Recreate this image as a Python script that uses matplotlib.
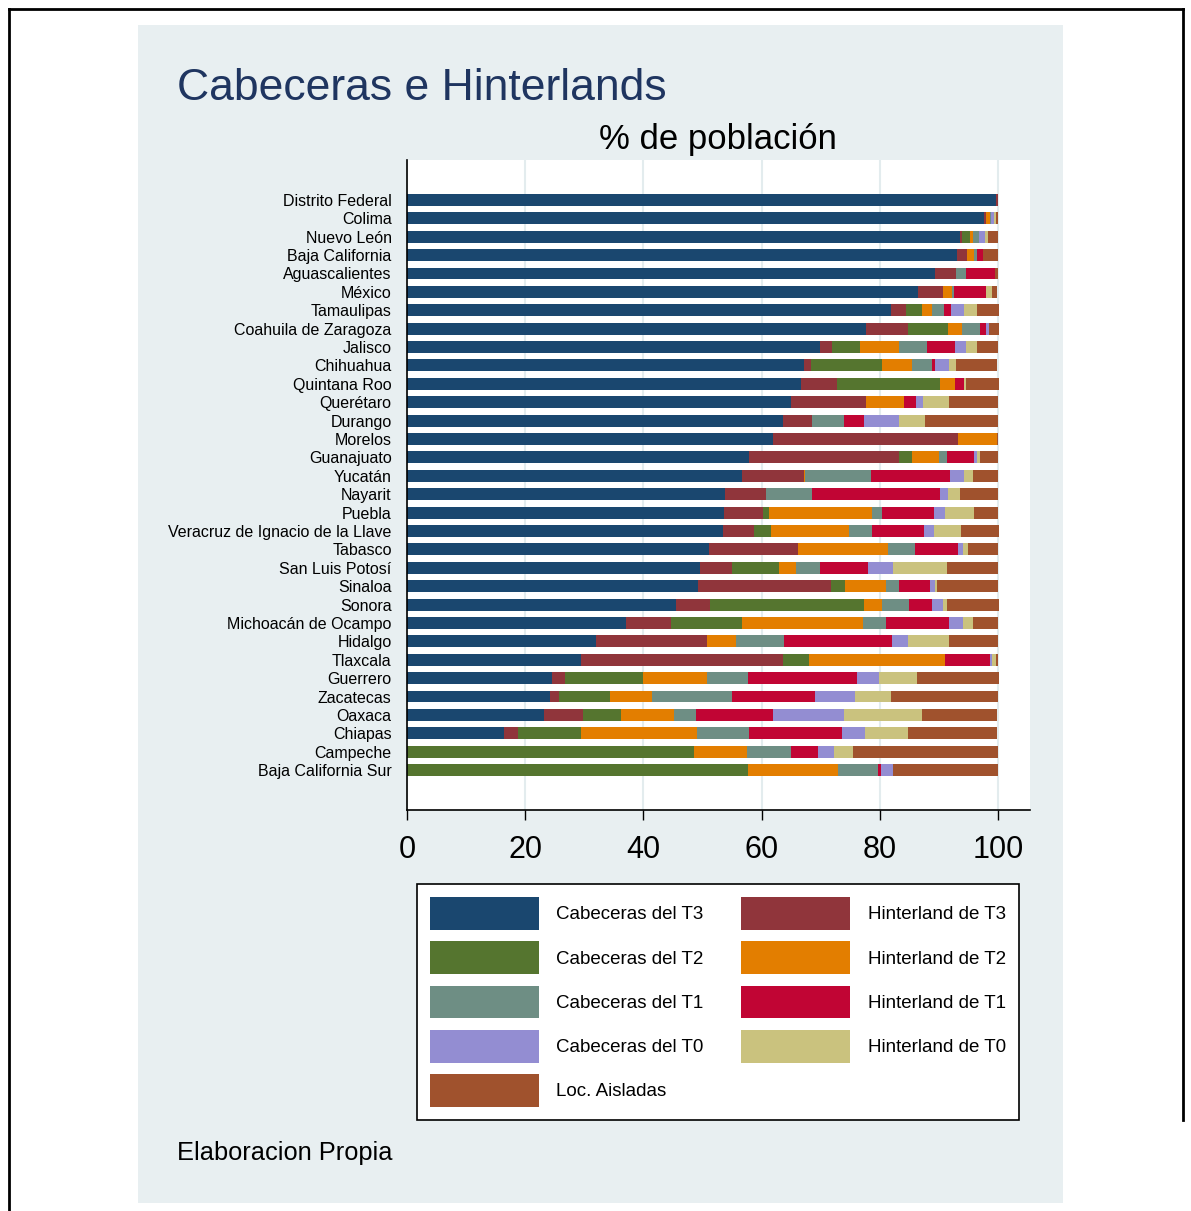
import numpy as np
import matplotlib.pyplot as plt
from matplotlib.patches import Rectangle
from matplotlib.lines import Line2D

plt.rcParams['font.family'] = ['Liberation Sans', 'DejaVu Sans']

states = ["Distrito Federal", "Colima", "Nuevo León", "Baja California", "Aguascalientes",
          "México", "Tamaulipas", "Coahuila de Zaragoza", "Jalisco", "Chihuahua",
          "Quintana Roo", "Querétaro", "Durango", "Morelos", "Guanajuato", "Yucatán",
          "Nayarit", "Puebla", "Veracruz de Ignacio de la Llave", "Tabasco",
          "San Luis Potosí", "Sinaloa", "Sonora", "Michoacán de Ocampo", "Hidalgo",
          "Tlaxcala", "Guerrero", "Zacatecas", "Oaxaca", "Chiapas", "Campeche",
          "Baja California Sur"]

# % of population per category
cab_t3 = [99.7, 97.6, 93.6, 93.0, 89.3, 86.4, 81.9, 77.6, 69.8, 67.1,
          66.6, 64.9, 63.6, 62.0, 57.9, 56.6, 53.8, 53.6, 53.5, 51.1,
          49.6, 49.2, 45.5, 37.1, 31.9, 29.4, 24.6, 24.2, 23.1, 16.4, 0.0, 0.0]
hin_t3 = [0.3, 0.4, 0.3, 1.8, 3.5, 4.2, 2.6, 7.2, 2.1, 1.2,
          6.2, 12.8, 4.9, 31.3, 25.3, 10.5, 6.9, 6.6, 5.2, 15.1,
          5.3, 22.6, 5.8, 7.6, 18.9, 34.2, 2.2, 1.6, 6.6, 2.3, 0.0, 0.0]
cab_t2 = [0.0, 0.0, 1.4, 0.0, 0.0, 0.0, 2.7, 6.8, 4.8, 12.1,
          17.4, 0.0, 0.0, 0.0, 2.2, 0.0, 0.0, 1.0, 2.9, 0.0,
          8.1, 2.3, 26.0, 11.9, 0.0, 4.4, 13.2, 8.6, 6.5, 10.7, 48.6, 57.7]
hin_t2 = [0.0, 0.7, 0.4, 1.2, 0.0, 1.6, 1.6, 2.3, 6.6, 5.0,
          2.5, 6.4, 0.0, 6.5, 4.6, 0.3, 0.0, 17.5, 13.2, 15.2,
          2.8, 6.9, 3.0, 20.6, 4.8, 23.1, 10.7, 7.0, 8.9, 19.7, 8.9, 15.2]
cab_t1 = [0.0, 0.1, 1.1, 0.5, 1.7, 0.3, 2.1, 3.0, 4.6, 3.4,
          0.0, 0.0, 5.4, 0.0, 1.4, 11.1, 7.9, 1.6, 3.8, 4.6,
          4.0, 2.2, 4.6, 3.9, 8.2, 0.0, 7.0, 13.5, 3.8, 8.7, 7.5, 6.7]
hin_t1 = [0.0, 0.0, 0.0, 1.0, 5.0, 5.4, 1.1, 1.0, 4.8, 0.6,
          1.6, 2.0, 3.4, 0.0, 4.5, 13.3, 21.6, 8.8, 8.8, 7.2,
          8.2, 5.3, 4.0, 10.6, 18.2, 7.6, 18.4, 14.2, 13.0, 15.8, 4.6, 0.6]
cab_t0 = [0.0, 0.5, 1.0, 0.0, 0.0, 0.0, 2.3, 0.6, 1.9, 2.3,
          0.0, 1.2, 6.0, 0.0, 0.5, 2.4, 1.3, 1.9, 1.8, 0.8,
          4.2, 0.8, 1.8, 2.3, 2.7, 0.3, 3.8, 6.7, 12.1, 3.9, 2.7, 2.1]
hin_t0 = [0.0, 0.3, 0.45, 0.0, 0.0, 1.1, 2.1, 0.0, 1.8, 1.2,
          0.3, 4.4, 4.4, 0.0, 0.6, 1.6, 2.0, 4.9, 4.6, 0.9,
          9.1, 0.3, 0.7, 1.7, 7.0, 0.6, 6.3, 6.1, 13.1, 7.2, 3.2, 0.0]
loc_ais = [0.0, 0.4, 1.75, 2.5, 0.5, 0.9, 3.7, 1.6, 3.6, 7.0,
           5.5, 8.3, 12.3, 0.2, 3.0, 4.2, 6.5, 4.1, 6.3, 5.1,
           8.7, 10.4, 8.7, 4.3, 8.3, 0.4, 13.9, 18.1, 12.8, 15.2, 24.5, 17.7]

series = [cab_t3, hin_t3, cab_t2, hin_t2, cab_t1, hin_t1, cab_t0, hin_t0, loc_ais]
labels = ["Cabeceras del T3", "Hinterland de T3", "Cabeceras del T2", "Hinterland de T2",
          "Cabeceras del T1", "Hinterland de T1", "Cabeceras del T0", "Hinterland de T0",
          "Loc. Aisladas"]
colors = ["#1A476F", "#90353B", "#55752F", "#E37E00", "#6E8E84",
          "#C10534", "#938DD2", "#CAC27E", "#A0522D"]

fig = plt.figure(figsize=(11.91, 12.11), dpi=100)
W, H = 1191, 1211

# light panel behind the graph
fig.patches.append(Rectangle((138 / W, 1 - 1203 / H), 925 / W, 1178 / H,
                             transform=fig.transFigure, facecolor="#E8EFF1",
                             edgecolor="none", zorder=-2))
# page frame
fig.lines.append(Line2D([9 / W, 9 / W], [0, 1 - 9 / H], transform=fig.transFigure,
                        color="black", lw=2))
fig.lines.append(Line2D([9 / W, 1183 / W], [1 - 9 / H, 1 - 9 / H], transform=fig.transFigure,
                        color="black", lw=2))
fig.lines.append(Line2D([1183 / W, 1183 / W], [1 - 9 / H, 1 - 1120 / H], transform=fig.transFigure,
                        color="black", lw=2))

ax = fig.add_axes([407 / W, 1 - 810 / H, 623 / W, 650 / H])
ax.set_facecolor("white")

y = np.arange(len(states))
left = np.zeros(len(states))
handles = []
for vals, lab, col in zip(series, labels, colors):
    b = ax.barh(y, vals, left=left, height=0.65, color=col, label=lab, linewidth=0)
    handles.append(b)
    left += np.array(vals)

ax.set_ylim(len(states) - 1 + 2.17, -2.17)
ax.set_xlim(0, 105.4)
ax.set_yticks(y)
ax.set_yticklabels(states, fontsize=11.5)
ax.set_xticks([0, 20, 40, 60, 80, 100])
ax.tick_params(axis="y", length=0, pad=11)
ax.tick_params(axis="x", length=7, width=1, pad=11, labelsize=22)
ax.grid(axis="x", color="#E3ECEE", lw=1.5)
ax.set_axisbelow(True)
for s in ["top", "right"]:
    ax.spines[s].set_visible(False)
ax.spines["left"].set_linewidth(1.2)
ax.spines["bottom"].set_linewidth(1.2)

fig.text(177 / W, 1 - 89 / H, "Cabeceras e Hinterlands", fontsize=32, color="#1F3560",
         va="center", ha="left")
fig.text(718 / W, 1 - 139 / H, "% de población", fontsize=25, va="center", ha="center")
fig.text(177 / W, 1 - 1153 / H, "Elaboracion Propia", fontsize=18.3, va="center", ha="left")

order = [0, 2, 4, 6, 8, 1, 3, 5, 7]
leg = fig.legend([handles[i] for i in order], [labels[i] for i in order], ncol=2,
                 loc="center", bbox_to_anchor=(718 / W, 1 - 1002 / H),
                 fontsize=13.5, frameon=True, fancybox=False, edgecolor="black",
                 facecolor="white", framealpha=1,
                 handlelength=5.8, handleheight=2.3, handletextpad=0.95,
                 labelspacing=0.62, columnspacing=2.0, borderpad=0.7)
leg.get_frame().set_linewidth(1.2)

fig.savefig("out.png", dpi=100)
